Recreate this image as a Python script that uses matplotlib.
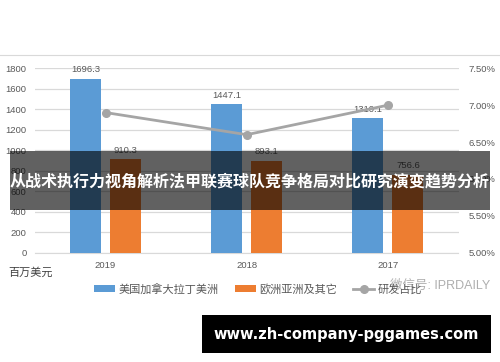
import matplotlib
matplotlib.use("Agg")
import matplotlib.pyplot as plt
import numpy as np
from matplotlib.lines import Line2D
from matplotlib.patches import Rectangle

plt.rcParams['font.family'] = ['Liberation Sans', 'Noto Sans CJK SC', 'DejaVu Sans']

years = ['2019', '2018', '2017']
americas = [1696.3, 1447.1, 1310.1]
europe_asia = [910.3, 893.1, 756.6]
rd_share = [6.90, 6.60, 7.00]
series_names = ['美国加拿大拉丁美洲', '欧洲亚洲及其它', '研发占比']
left_ticks = [0, 200, 400, 600, 800, 1000, 1200, 1400, 1600, 1800]
right_ticks = [5.0, 5.5, 6.0, 6.5, 7.0, 7.5]
unit_label = '百万美元'
title_text = '从战术执行力视角解析法甲联赛球队竞争格局对比研究演变趋势分析'
url_text = 'www.zh-company-pggames.com'
watermark = '微信号: IPRDAILY'

W, H = 500, 362
fig = plt.figure(figsize=(W/100, H/100), dpi=100)
ax = fig.add_axes([35/W, 1-252.7/H, (458.5-35)/W, (252.7-68.3)/H])
ax2 = ax.twinx()

blue = '#5b9bd5'
orange = '#ed7d31'
grey_line = '#a5a5a5'
txt = '#595959'

x = np.arange(len(years))
bw = 0.22
off = 0.142
b1 = ax.bar(x - off, americas, bw, color=blue, zorder=3, label=series_names[0])
b2 = ax.bar(x + off, europe_asia, bw, color=orange, zorder=3, label=series_names[1])
for bars, vals in ((b1, americas), (b2, europe_asia)):
    for r, v in zip(bars, vals):
        ax.annotate(f'{v:.1f}', (r.get_x() + r.get_width()/2, v), xytext=(0, 3.5),
                    textcoords='offset points', ha='center', va='bottom',
                    fontsize=6.8, color=txt, zorder=5)

ln, = ax2.plot(x, rd_share, color=grey_line, lw=2, marker='o', ms=5.5, zorder=4,
               label=series_names[2])

ax.set_xlim(-0.5, len(years) - 0.5)
ax.set_ylim(0, 1800)
ax2.set_ylim(5.0, 7.5)
ax.set_yticks(left_ticks)
ax.set_yticklabels([str(t) for t in left_ticks])
ax2.set_yticks(right_ticks)
ax2.set_yticklabels([f'{t:.2f}%' for t in right_ticks])
ax.set_xticks(x)
ax.set_xticklabels(years)
ax.grid(axis='y', color='#d9d9d9', lw=0.9, zorder=0)
ax.set_axisbelow(True)
for a in (ax, ax2):
    for s in a.spines.values():
        s.set_visible(False)
    a.tick_params(length=0, labelsize=6.8, labelcolor=txt)
ax.tick_params(axis='y', pad=6)
ax2.tick_params(axis='y', pad=7)
ax.tick_params(axis='x', pad=6)
ax.spines['bottom'].set_visible(True)
ax.spines['bottom'].set_color('#d9d9d9')

# top border line
fig.add_artist(Line2D([0, 1], [1-55.3/H, 1-55.3/H], color='#d9d9d9', lw=0.8))

fig.text(8/W, 1-273/H, unit_label, fontsize=8, color='#404040', ha='left', va='center')

leg = fig.legend(handles=[b1, b2, ln], labels=series_names, loc='center',
                 bbox_to_anchor=(258/W, 1-289/H), ncol=3, frameon=False,
                 fontsize=8, handlelength=1.9, handleheight=0.5,
                 handletextpad=0.25, columnspacing=1.5, labelcolor=txt)

fig.text(390/W, 1-286/H, watermark, fontsize=9, color='#9a9a9a', alpha=0.8,
         ha='left', va='center')

# title banner
fig.add_artist(Rectangle((10/W, 1-210/H), 480/W, 59/H, transform=fig.transFigure,
                         facecolor='black', alpha=0.62, edgecolor='none', zorder=10))
fig.text(250/W, 1-181/H, title_text, fontsize=11.5, fontweight='bold', color='white',
         ha='center', va='center', zorder=11, family=['Noto Sans CJK SC', 'DejaVu Sans'])

# url banner
fig.add_artist(Rectangle((202/W, 1-352.7/H), 289/W, 37.7/H, transform=fig.transFigure,
                         facecolor='black', edgecolor='none', zorder=10))
fig.text(346/W, 1-334/H, url_text, fontsize=10.5, fontweight='bold', color='white',
         ha='center', va='center', zorder=11, family=['DejaVu Sans'])

fig.savefig('out.png', dpi=100)
